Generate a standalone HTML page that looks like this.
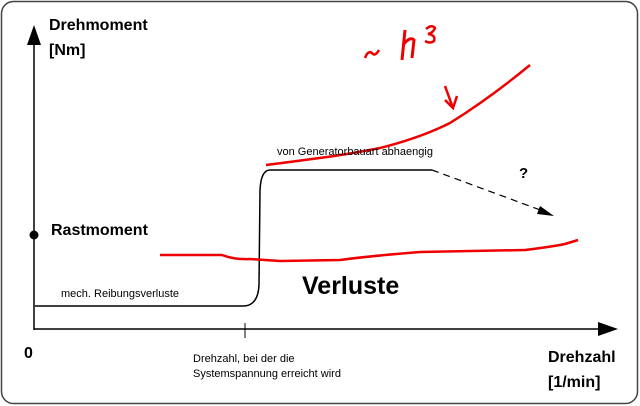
<!DOCTYPE html>
<html><head><meta charset="utf-8"><style>
html,body{margin:0;padding:0;background:#fff;}
svg{display:block;}
text{font-family:"Liberation Sans",sans-serif;}
</style></head><body>
<svg width="640" height="406" viewBox="0 0 640 406" xmlns="http://www.w3.org/2000/svg">
<rect x="1.5" y="1.5" width="636" height="402" rx="12" fill="#fff" stroke="#444" stroke-width="1.5"/>
<line x1="34" y1="330" x2="34" y2="42" stroke="#000" stroke-width="1.5"/>
<polygon points="34,25 27,45 41,45" fill="#000"/>
<line x1="34" y1="329" x2="600" y2="329" stroke="#000" stroke-width="1.5"/>
<polygon points="618,329 598,322 598,336" fill="#000"/>
<line x1="245" y1="323" x2="245" y2="338" stroke="#000" stroke-width="1"/>
<circle cx="34" cy="235" r="4.5" fill="#000"/>
<path d="M35,306 L243,306 Q258,306 259,285 L260,190 Q261,170 270,170 L432,170" fill="none" stroke="#000" stroke-width="1.5"/>
<path d="M432,170 L543,211" fill="none" stroke="#000" stroke-width="1.2" stroke-dasharray="7,5"/>
<polygon points="554,216 540,206 537,214" fill="#000"/>
<path d="M266,165 Q290,162 312,159 Q345,155 380,148 Q420,138 450,123 Q490,98 530,65" fill="none" stroke="#e00" stroke-width="2.5"/>
<path d="M445,86 L453,108" fill="none" stroke="#e00" stroke-width="2.5"/>
<path d="M445,100 L453,108 L457,96" fill="none" stroke="#e00" stroke-width="2.5"/>
<path d="M160,255 L222,255 Q235,260 250,259 L280,261 L340,260 Q370,256 420,252 L525,250 Q550,247 565,244 L578,240" fill="none" stroke="#e00" stroke-width="2.5"/>
<path d="M365,58 Q368,50 372,53 Q375,57 379,50" fill="none" stroke="#e00" stroke-width="2.5"/>
<path d="M405,30 L402,60 M403,45 Q410,36 414,40 L412,58" fill="none" stroke="#e00" stroke-width="3"/>
<path d="M426,29 Q432,24 435,28 Q433,33 428,34 Q436,35 434,41 Q430,44 425,41" fill="none" stroke="#e00" stroke-width="2.5"/>
<text x="49" y="30" font-size="16" font-weight="bold">Drehmoment</text>
<text x="49" y="55" font-size="16" font-weight="bold">[Nm]</text>
<text x="51" y="235" font-size="16" font-weight="bold">Rastmoment</text>
<text x="61" y="297" font-size="11">mech. Reibungsverluste</text>
<text x="277" y="155" font-size="11">von Generatorbauart abhaengig</text>
<text x="519" y="178" font-size="15" font-weight="bold">?</text>
<text x="302" y="294" font-size="25" font-weight="bold">Verluste</text>
<text x="24" y="358" font-size="16" font-weight="bold">0</text>
<text x="193" y="362" font-size="11">Drehzahl, bei der die</text>
<text x="193" y="377" font-size="11">Systemspannung erreicht wird</text>
<text x="548" y="362" font-size="16" font-weight="bold">Drehzahl</text>
<text x="548" y="387" font-size="16" font-weight="bold">[1/min]</text>
</svg>
</body></html>
